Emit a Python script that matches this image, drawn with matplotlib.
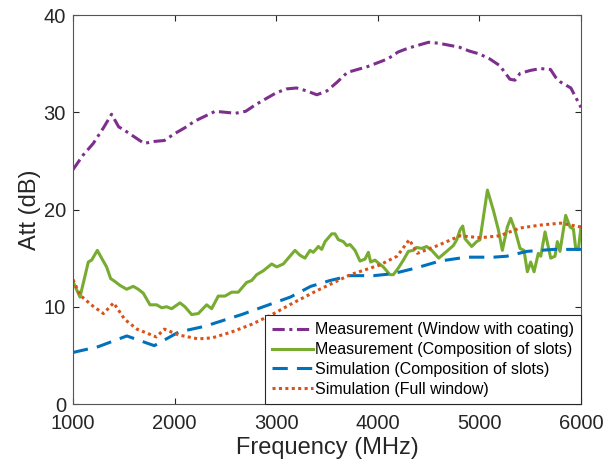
import numpy as np
import matplotlib
matplotlib.use("Agg")
import matplotlib.pyplot as plt

plt.rcParams['font.family'] = ['Liberation Sans', 'DejaVu Sans']

# Measurement (Window with coating)
f_coat = [1000, 1100, 1200, 1300, 1380, 1450, 1500, 1600, 1700, 1800, 1900, 2000,
          2100, 2200, 2300, 2400, 2500, 2600, 2700, 2800, 2900, 3000, 3100, 3200,
          3300, 3400, 3500, 3600, 3700, 3800, 3900, 4000, 4100, 4200, 4300, 4400,
          4500, 4600, 4700, 4800, 4900, 5000, 5100, 5200, 5300, 5350, 5400, 5500,
          5600, 5700, 5750, 5800, 5900, 6000]
att_coat = [24.1, 25.6, 26.8, 28.4, 29.8, 28.5, 28.2, 27.5, 26.8, 27.0, 27.1, 27.8,
            28.4, 29.1, 29.6, 30.1, 30.0, 29.9, 30.1, 30.8, 31.4, 32.0, 32.4, 32.5,
            32.2, 31.8, 32.2, 33.1, 34.1, 34.4, 34.7, 35.1, 35.5, 36.2, 36.6, 36.9,
            37.2, 37.1, 36.9, 36.7, 36.3, 36.0, 35.5, 34.8, 33.4, 33.3, 34.0, 34.3,
            34.5, 34.4, 33.6, 33.1, 32.5, 30.5]

# Measurement (Composition of slots)
f_slots = [1000, 1069, 1151, 1184, 1240, 1282, 1331, 1371, 1413, 1463, 1528, 1594,
           1643, 1692, 1758, 1824, 1873, 1922, 1971, 2053, 2102, 2168, 2233, 2316,
           2365, 2430, 2496, 2562, 2627, 2709, 2759, 2808, 2873, 2956, 3005, 3070,
           3119, 3185, 3234, 3283, 3333, 3366, 3415, 3448, 3481, 3547, 3579, 3612,
           3661, 3694, 3727, 3776, 3825, 3874, 3907, 3930, 3972, 4005, 4054, 4120,
           4153, 4203, 4252, 4301, 4350, 4383, 4432, 4481, 4531, 4600, 4678, 4744,
           4777, 4810, 4836, 4858, 4924, 4973, 5006, 5079, 5138, 5187, 5226, 5275,
           5308, 5350, 5400, 5439, 5472, 5505, 5538, 5580, 5604, 5646, 5702, 5744,
           5767, 5793, 5849, 5892, 5925, 5949, 5974, 6000]
att_slots = [12.6, 11.0, 14.6, 14.8, 15.8, 15.0, 14.1, 12.9, 12.6, 12.2, 11.8, 12.1,
             11.8, 11.4, 10.2, 10.2, 9.9, 10.0, 9.8, 10.4, 10.0, 9.2, 9.3, 10.2,
             9.8, 11.1, 11.1, 11.5, 11.5, 12.5, 12.7, 13.3, 13.7, 14.4, 14.1, 14.4,
             15.0, 15.8, 15.3, 15.0, 15.8, 15.6, 16.2, 15.9, 16.7, 17.5, 17.5, 16.9,
             16.7, 16.3, 16.4, 15.8, 14.7, 14.9, 15.6, 14.6, 14.8, 14.5, 14.1, 13.3,
             13.3, 14.0, 14.8, 15.7, 15.8, 16.1, 16.0, 16.2, 15.8, 15.0, 15.7, 16.3,
             16.9, 17.9, 18.3, 17.0, 16.2, 16.7, 16.9, 22.0, 19.9, 17.9, 15.8, 18.2,
             19.1, 17.9, 16.0, 15.8, 13.6, 14.6, 13.6, 15.5, 15.2, 17.7, 15.0, 15.2,
             16.7, 15.7, 19.4, 18.2, 18.0, 15.9, 15.9, 18.2]

# Simulation (Composition of slots)
f_sim_slots = [1000, 1250, 1530, 1800, 2040, 2300, 2660, 2900, 3140, 3340, 3530,
               3730, 3960, 4150, 4380, 4610, 4870, 5140, 5270, 5470, 5730, 6000]
att_sim_slots = [5.3, 5.9, 7.0, 6.0, 7.4, 8.0, 9.2, 10.1, 11.0, 12.1, 12.7,
                 13.2, 13.2, 13.4, 14.0, 14.7, 15.1, 15.1, 15.2, 15.7, 15.9, 15.9]

# Simulation (Full window)
f_full = [1000, 1070, 1180, 1300, 1400, 1510, 1630, 1820, 1900, 2040, 2230, 2370,
          2560, 2760, 2960, 3150, 3390, 3730, 4020, 4190, 4310, 4390, 4590, 4810,
          5010, 5200, 5400, 5600, 5800, 6000]
att_full = [12.8, 11.2, 10.2, 9.3, 10.4, 8.7, 7.7, 6.9, 7.7, 7.1, 6.7, 6.8,
            7.4, 8.2, 9.2, 10.3, 11.6, 13.3, 14.3, 15.2, 16.9, 15.5, 16.3, 17.3,
            17.1, 17.3, 18.1, 18.4, 18.6, 18.2]

fig = plt.figure(figsize=(6.08, 4.70), dpi=100)
ax = fig.add_axes([0.12, 0.1404, 0.8356, 0.8276])

ax.plot(f_coat, att_coat, color='#7E2F8E', lw=2.2, ls=(0, (4, 1.5, 1, 1.5)),
        label='Measurement (Window with coating)')
ax.plot(f_slots, att_slots, color='#77AC30', lw=2.2, ls='-',
        label='Measurement (Composition of slots)')
ax.plot(f_sim_slots, att_sim_slots, color='#0072BD', lw=2.2, ls=(0, (5, 3)),
        label='Simulation (Composition of slots)')
ax.plot(f_full, att_full, color='#D95319', lw=2.2, ls=(0, (1, 1.1)),
        label='Simulation (Full window)')

ax.set_xlim(1000, 6000)
ax.set_ylim(0, 40)
ax.set_xticks([1000, 2000, 3000, 4000, 5000, 6000])
ax.set_yticks([0, 10, 20, 30, 40])
ax.tick_params(direction='in', top=True, right=True, labelsize=14.5,
               colors='#262626', length=4, width=0.8)
ax.tick_params(axis='x', pad=7)
ax.tick_params(axis='y', pad=5)
for s in ax.spines.values():
    s.set_color('#555555')
    s.set_linewidth(0.8)

ax.set_xlabel('Frequency (MHz)', fontsize=17, color='#262626', labelpad=3)
ax.set_ylabel('Att (dB)', fontsize=17, color='#262626', labelpad=2)

leg = ax.legend(loc='lower right', fontsize=11.5, handlelength=2.6,
                handletextpad=0.1, borderaxespad=0, borderpad=0.45,
                labelspacing=0.3, fancybox=False, framealpha=1)
leg.get_frame().set_edgecolor('#262626')
leg.get_frame().set_linewidth(0.8)

fig.savefig('out.png', dpi=100)
